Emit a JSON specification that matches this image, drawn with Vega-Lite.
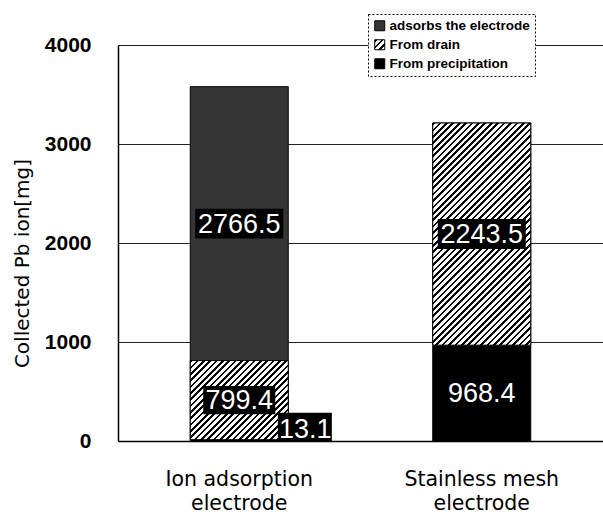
{
  "$schema": "https://vega.github.io/schema/vega-lite/v6.json",
  "width": 485,
  "height": 396,
  "autosize": "none",
  "padding": {"left": 118, "top": 45, "right": 0, "bottom": 76},
  "background": "white",
  "config": {
    "view": {"stroke": null},
    "font": "Liberation Sans"
  },
  "data": {
    "values": [
      {"electrode": "Ion adsorption electrode", "series": "From precipitation", "part": 1, "value": 13.1},
      {"electrode": "Ion adsorption electrode", "series": "From drain", "part": 2, "value": 799.4},
      {"electrode": "Ion adsorption electrode", "series": "adsorbs the electrode", "part": 3, "value": 2766.5},
      {"electrode": "Stainless mesh electrode", "series": "From precipitation", "part": 1, "value": 968.4},
      {"electrode": "Stainless mesh electrode", "series": "From drain", "part": 2, "value": 2243.5}
    ]
  },
  "transform": [
    {"stack": "value", "groupby": ["electrode"], "sort": [{"field": "part", "order": "ascending"}], "as": ["y0", "y1"]},
    {"calculate": "(datum.y0 + datum.y1) / 2", "as": "ymid"}
  ],
  "encoding": {
    "x": {
      "field": "electrode",
      "type": "nominal",
      "sort": ["Ion adsorption electrode", "Stainless mesh electrode"],
      "scale": {"paddingInner": 0, "paddingOuter": 0},
      "axis": {
        "title": null,
        "labelAngle": 0,
        "ticks": false,
        "domainColor": "#000",
        "domainWidth": 1.5,
        "labelFont": "DejaVu Sans",
        "labelFontSize": 20.5,
        "labelColor": "#000",
        "labelPadding": 28,
        "labelLineHeight": 24,
        "labelExpr": "datum.value == 'Ion adsorption electrode' ? ['Ion adsorption', 'electrode'] : ['Stainless mesh', 'electrode']"
      }
    }
  },
  "layer": [
    {
      "mark": {"type": "bar", "width": 98, "stroke": "#000", "strokeWidth": 1},
      "encoding": {
        "y": {
          "field": "y1",
          "type": "quantitative",
          "scale": {"domain": [0, 4000], "nice": false},
          "axis": {
            "title": "Collected Pb ion[mg]",
            "titleFont": "DejaVu Sans",
            "titleFontSize": 20,
            "titleFontWeight": "normal",
            "titleColor": "#000",
            "titleAngle": 270,
            "titleAnchor": "middle",
            "titleBaseline": "middle",
            "titleX": -96,
            "titleY": 218,
            "values": [0, 1000, 2000, 3000, 4000],
            "format": "d",
            "labelFont": "Liberation Sans",
            "labelFontWeight": "bold",
            "labelFontSize": 21,
            "labelColor": "#000",
            "labelPadding": 27,
            "tickSize": 0,
            "domainColor": "#000",
            "domainWidth": 1.5,
            "grid": true,
            "gridColor": "#222",
            "gridWidth": 1
          }
        },
        "y2": {"field": "y0"},
        "color": {
          "field": "series",
          "type": "nominal",
          "scale": {
            "domain": ["adsorbs the electrode", "From drain", "From precipitation"],
            "range": [
              "#353535",
              {"expr": "{gradient: 'linear', x1: 0, y1: 0, x2: 1, y2: 1, stops: [{offset: 0, color: '#000'}, {offset: 0.14, color: '#000'}, {offset: 0.14, color: '#fff'}, {offset: 0.333, color: '#fff'}, {offset: 0.333, color: '#000'}, {offset: 0.473, color: '#000'}, {offset: 0.473, color: '#fff'}, {offset: 0.667, color: '#fff'}, {offset: 0.667, color: '#000'}, {offset: 0.807, color: '#000'}, {offset: 0.807, color: '#fff'}, {offset: 1, color: '#fff'}]}"},
              "#000000"
            ]
          },
          "legend": {
            "title": null,
            "orient": "none",
            "legendX": 250,
            "legendY": -31,
            "padding": 5,
            "fillColor": "white",
            "strokeColor": "#000",
            "symbolType": "square",
            "symbolSize": 100,
            "symbolStrokeColor": "#000",
            "symbolStrokeWidth": 1,
            "labelFont": "Liberation Sans",
            "labelFontWeight": "bold",
            "labelFontSize": 13.5,
            "labelColor": "#000",
            "labelOffset": 3,
            "labelLimit": 300,
            "rowPadding": 4,
            "encode": {
              "legend": {
                "update": {"strokeDash": {"value": [2, 2]}}
              }
            }
          }
        }
      }
    },
    {
      "transform": [{"filter": "datum.series == 'From drain' && datum.electrode == 'Ion adsorption electrode'"}],
      "mark": {
        "type": "bar",
        "width": 98,
        "stroke": "#000",
        "strokeWidth": 1,
        "fill": {
          "gradient": "linear",
          "x1": 0, "y1": 0, "x2": 1.0941, "y2": 0.8835,
          "stops": [
            {"offset": 0, "color": "#000"}, {"offset": 0.015, "color": "#000"}, {"offset": 0.015, "color": "#fff"}, {"offset": 0.0357, "color": "#fff"},
            {"offset": 0.0357, "color": "#000"}, {"offset": 0.0507, "color": "#000"}, {"offset": 0.0507, "color": "#fff"}, {"offset": 0.0714, "color": "#fff"},
            {"offset": 0.0714, "color": "#000"}, {"offset": 0.0864, "color": "#000"}, {"offset": 0.0864, "color": "#fff"}, {"offset": 0.1071, "color": "#fff"},
            {"offset": 0.1071, "color": "#000"}, {"offset": 0.1221, "color": "#000"}, {"offset": 0.1221, "color": "#fff"}, {"offset": 0.1429, "color": "#fff"},
            {"offset": 0.1429, "color": "#000"}, {"offset": 0.1579, "color": "#000"}, {"offset": 0.1579, "color": "#fff"}, {"offset": 0.1786, "color": "#fff"},
            {"offset": 0.1786, "color": "#000"}, {"offset": 0.1936, "color": "#000"}, {"offset": 0.1936, "color": "#fff"}, {"offset": 0.2143, "color": "#fff"},
            {"offset": 0.2143, "color": "#000"}, {"offset": 0.2293, "color": "#000"}, {"offset": 0.2293, "color": "#fff"}, {"offset": 0.25, "color": "#fff"},
            {"offset": 0.25, "color": "#000"}, {"offset": 0.265, "color": "#000"}, {"offset": 0.265, "color": "#fff"}, {"offset": 0.2857, "color": "#fff"},
            {"offset": 0.2857, "color": "#000"}, {"offset": 0.3007, "color": "#000"}, {"offset": 0.3007, "color": "#fff"}, {"offset": 0.3214, "color": "#fff"},
            {"offset": 0.3214, "color": "#000"}, {"offset": 0.3364, "color": "#000"}, {"offset": 0.3364, "color": "#fff"}, {"offset": 0.3571, "color": "#fff"},
            {"offset": 0.3571, "color": "#000"}, {"offset": 0.3721, "color": "#000"}, {"offset": 0.3721, "color": "#fff"}, {"offset": 0.3929, "color": "#fff"},
            {"offset": 0.3929, "color": "#000"}, {"offset": 0.4079, "color": "#000"}, {"offset": 0.4079, "color": "#fff"}, {"offset": 0.4286, "color": "#fff"},
            {"offset": 0.4286, "color": "#000"}, {"offset": 0.4436, "color": "#000"}, {"offset": 0.4436, "color": "#fff"}, {"offset": 0.4643, "color": "#fff"},
            {"offset": 0.4643, "color": "#000"}, {"offset": 0.4793, "color": "#000"}, {"offset": 0.4793, "color": "#fff"}, {"offset": 0.5, "color": "#fff"},
            {"offset": 0.5, "color": "#000"}, {"offset": 0.515, "color": "#000"}, {"offset": 0.515, "color": "#fff"}, {"offset": 0.5357, "color": "#fff"},
            {"offset": 0.5357, "color": "#000"}, {"offset": 0.5507, "color": "#000"}, {"offset": 0.5507, "color": "#fff"}, {"offset": 0.5714, "color": "#fff"},
            {"offset": 0.5714, "color": "#000"}, {"offset": 0.5864, "color": "#000"}, {"offset": 0.5864, "color": "#fff"}, {"offset": 0.6071, "color": "#fff"},
            {"offset": 0.6071, "color": "#000"}, {"offset": 0.6221, "color": "#000"}, {"offset": 0.6221, "color": "#fff"}, {"offset": 0.6429, "color": "#fff"},
            {"offset": 0.6429, "color": "#000"}, {"offset": 0.6579, "color": "#000"}, {"offset": 0.6579, "color": "#fff"}, {"offset": 0.6786, "color": "#fff"},
            {"offset": 0.6786, "color": "#000"}, {"offset": 0.6936, "color": "#000"}, {"offset": 0.6936, "color": "#fff"}, {"offset": 0.7143, "color": "#fff"},
            {"offset": 0.7143, "color": "#000"}, {"offset": 0.7293, "color": "#000"}, {"offset": 0.7293, "color": "#fff"}, {"offset": 0.75, "color": "#fff"},
            {"offset": 0.75, "color": "#000"}, {"offset": 0.765, "color": "#000"}, {"offset": 0.765, "color": "#fff"}, {"offset": 0.7857, "color": "#fff"},
            {"offset": 0.7857, "color": "#000"}, {"offset": 0.8007, "color": "#000"}, {"offset": 0.8007, "color": "#fff"}, {"offset": 0.8214, "color": "#fff"},
            {"offset": 0.8214, "color": "#000"}, {"offset": 0.8364, "color": "#000"}, {"offset": 0.8364, "color": "#fff"}, {"offset": 0.8571, "color": "#fff"},
            {"offset": 0.8571, "color": "#000"}, {"offset": 0.8721, "color": "#000"}, {"offset": 0.8721, "color": "#fff"}, {"offset": 0.8929, "color": "#fff"},
            {"offset": 0.8929, "color": "#000"}, {"offset": 0.9079, "color": "#000"}, {"offset": 0.9079, "color": "#fff"}, {"offset": 0.9286, "color": "#fff"},
            {"offset": 0.9286, "color": "#000"}, {"offset": 0.9436, "color": "#000"}, {"offset": 0.9436, "color": "#fff"}, {"offset": 0.9643, "color": "#fff"},
            {"offset": 0.9643, "color": "#000"}, {"offset": 0.9793, "color": "#000"}, {"offset": 0.9793, "color": "#fff"}, {"offset": 1, "color": "#fff"}
          ]
        }
      },
      "encoding": {
        "y": {"field": "y1", "type": "quantitative"},
        "y2": {"field": "y0"}
      }
    },
    {
      "transform": [{"filter": "datum.series == 'From drain' && datum.electrode == 'Stainless mesh electrode'"}],
      "mark": {
        "type": "bar",
        "width": 98,
        "stroke": "#000",
        "strokeWidth": 1,
        "fill": {
          "gradient": "linear",
          "x1": 0, "y1": 0, "x2": 0.5323, "y2": 1.2064,
          "stops": [
            {"offset": 0, "color": "#000"}, {"offset": 0.0082, "color": "#000"}, {"offset": 0.0082, "color": "#fff"}, {"offset": 0.02, "color": "#fff"},
            {"offset": 0.02, "color": "#000"}, {"offset": 0.0282, "color": "#000"}, {"offset": 0.0282, "color": "#fff"}, {"offset": 0.04, "color": "#fff"},
            {"offset": 0.04, "color": "#000"}, {"offset": 0.0482, "color": "#000"}, {"offset": 0.0482, "color": "#fff"}, {"offset": 0.06, "color": "#fff"},
            {"offset": 0.06, "color": "#000"}, {"offset": 0.0682, "color": "#000"}, {"offset": 0.0682, "color": "#fff"}, {"offset": 0.08, "color": "#fff"},
            {"offset": 0.08, "color": "#000"}, {"offset": 0.0882, "color": "#000"}, {"offset": 0.0882, "color": "#fff"}, {"offset": 0.10, "color": "#fff"},
            {"offset": 0.10, "color": "#000"}, {"offset": 0.1082, "color": "#000"}, {"offset": 0.1082, "color": "#fff"}, {"offset": 0.12, "color": "#fff"},
            {"offset": 0.12, "color": "#000"}, {"offset": 0.1282, "color": "#000"}, {"offset": 0.1282, "color": "#fff"}, {"offset": 0.14, "color": "#fff"},
            {"offset": 0.14, "color": "#000"}, {"offset": 0.1482, "color": "#000"}, {"offset": 0.1482, "color": "#fff"}, {"offset": 0.16, "color": "#fff"},
            {"offset": 0.16, "color": "#000"}, {"offset": 0.1682, "color": "#000"}, {"offset": 0.1682, "color": "#fff"}, {"offset": 0.18, "color": "#fff"},
            {"offset": 0.18, "color": "#000"}, {"offset": 0.1882, "color": "#000"}, {"offset": 0.1882, "color": "#fff"}, {"offset": 0.20, "color": "#fff"},
            {"offset": 0.20, "color": "#000"}, {"offset": 0.2082, "color": "#000"}, {"offset": 0.2082, "color": "#fff"}, {"offset": 0.22, "color": "#fff"},
            {"offset": 0.22, "color": "#000"}, {"offset": 0.2282, "color": "#000"}, {"offset": 0.2282, "color": "#fff"}, {"offset": 0.24, "color": "#fff"},
            {"offset": 0.24, "color": "#000"}, {"offset": 0.2482, "color": "#000"}, {"offset": 0.2482, "color": "#fff"}, {"offset": 0.26, "color": "#fff"},
            {"offset": 0.26, "color": "#000"}, {"offset": 0.2682, "color": "#000"}, {"offset": 0.2682, "color": "#fff"}, {"offset": 0.28, "color": "#fff"},
            {"offset": 0.28, "color": "#000"}, {"offset": 0.2882, "color": "#000"}, {"offset": 0.2882, "color": "#fff"}, {"offset": 0.30, "color": "#fff"},
            {"offset": 0.30, "color": "#000"}, {"offset": 0.3082, "color": "#000"}, {"offset": 0.3082, "color": "#fff"}, {"offset": 0.32, "color": "#fff"},
            {"offset": 0.32, "color": "#000"}, {"offset": 0.3282, "color": "#000"}, {"offset": 0.3282, "color": "#fff"}, {"offset": 0.34, "color": "#fff"},
            {"offset": 0.34, "color": "#000"}, {"offset": 0.3482, "color": "#000"}, {"offset": 0.3482, "color": "#fff"}, {"offset": 0.36, "color": "#fff"},
            {"offset": 0.36, "color": "#000"}, {"offset": 0.3682, "color": "#000"}, {"offset": 0.3682, "color": "#fff"}, {"offset": 0.38, "color": "#fff"},
            {"offset": 0.38, "color": "#000"}, {"offset": 0.3882, "color": "#000"}, {"offset": 0.3882, "color": "#fff"}, {"offset": 0.40, "color": "#fff"},
            {"offset": 0.40, "color": "#000"}, {"offset": 0.4082, "color": "#000"}, {"offset": 0.4082, "color": "#fff"}, {"offset": 0.42, "color": "#fff"},
            {"offset": 0.42, "color": "#000"}, {"offset": 0.4282, "color": "#000"}, {"offset": 0.4282, "color": "#fff"}, {"offset": 0.44, "color": "#fff"},
            {"offset": 0.44, "color": "#000"}, {"offset": 0.4482, "color": "#000"}, {"offset": 0.4482, "color": "#fff"}, {"offset": 0.46, "color": "#fff"},
            {"offset": 0.46, "color": "#000"}, {"offset": 0.4682, "color": "#000"}, {"offset": 0.4682, "color": "#fff"}, {"offset": 0.48, "color": "#fff"},
            {"offset": 0.48, "color": "#000"}, {"offset": 0.4882, "color": "#000"}, {"offset": 0.4882, "color": "#fff"}, {"offset": 0.50, "color": "#fff"},
            {"offset": 0.50, "color": "#000"}, {"offset": 0.5082, "color": "#000"}, {"offset": 0.5082, "color": "#fff"}, {"offset": 0.52, "color": "#fff"},
            {"offset": 0.52, "color": "#000"}, {"offset": 0.5282, "color": "#000"}, {"offset": 0.5282, "color": "#fff"}, {"offset": 0.54, "color": "#fff"},
            {"offset": 0.54, "color": "#000"}, {"offset": 0.5482, "color": "#000"}, {"offset": 0.5482, "color": "#fff"}, {"offset": 0.56, "color": "#fff"},
            {"offset": 0.56, "color": "#000"}, {"offset": 0.5682, "color": "#000"}, {"offset": 0.5682, "color": "#fff"}, {"offset": 0.58, "color": "#fff"},
            {"offset": 0.58, "color": "#000"}, {"offset": 0.5882, "color": "#000"}, {"offset": 0.5882, "color": "#fff"}, {"offset": 0.60, "color": "#fff"},
            {"offset": 0.60, "color": "#000"}, {"offset": 0.6082, "color": "#000"}, {"offset": 0.6082, "color": "#fff"}, {"offset": 0.62, "color": "#fff"},
            {"offset": 0.62, "color": "#000"}, {"offset": 0.6282, "color": "#000"}, {"offset": 0.6282, "color": "#fff"}, {"offset": 0.64, "color": "#fff"},
            {"offset": 0.64, "color": "#000"}, {"offset": 0.6482, "color": "#000"}, {"offset": 0.6482, "color": "#fff"}, {"offset": 0.66, "color": "#fff"},
            {"offset": 0.66, "color": "#000"}, {"offset": 0.6682, "color": "#000"}, {"offset": 0.6682, "color": "#fff"}, {"offset": 0.68, "color": "#fff"},
            {"offset": 0.68, "color": "#000"}, {"offset": 0.6882, "color": "#000"}, {"offset": 0.6882, "color": "#fff"}, {"offset": 0.70, "color": "#fff"},
            {"offset": 0.70, "color": "#000"}, {"offset": 0.7082, "color": "#000"}, {"offset": 0.7082, "color": "#fff"}, {"offset": 0.72, "color": "#fff"},
            {"offset": 0.72, "color": "#000"}, {"offset": 0.7282, "color": "#000"}, {"offset": 0.7282, "color": "#fff"}, {"offset": 0.74, "color": "#fff"},
            {"offset": 0.74, "color": "#000"}, {"offset": 0.7482, "color": "#000"}, {"offset": 0.7482, "color": "#fff"}, {"offset": 0.76, "color": "#fff"},
            {"offset": 0.76, "color": "#000"}, {"offset": 0.7682, "color": "#000"}, {"offset": 0.7682, "color": "#fff"}, {"offset": 0.78, "color": "#fff"},
            {"offset": 0.78, "color": "#000"}, {"offset": 0.7882, "color": "#000"}, {"offset": 0.7882, "color": "#fff"}, {"offset": 0.80, "color": "#fff"},
            {"offset": 0.80, "color": "#000"}, {"offset": 0.8082, "color": "#000"}, {"offset": 0.8082, "color": "#fff"}, {"offset": 0.82, "color": "#fff"},
            {"offset": 0.82, "color": "#000"}, {"offset": 0.8282, "color": "#000"}, {"offset": 0.8282, "color": "#fff"}, {"offset": 0.84, "color": "#fff"},
            {"offset": 0.84, "color": "#000"}, {"offset": 0.8482, "color": "#000"}, {"offset": 0.8482, "color": "#fff"}, {"offset": 0.86, "color": "#fff"},
            {"offset": 0.86, "color": "#000"}, {"offset": 0.8682, "color": "#000"}, {"offset": 0.8682, "color": "#fff"}, {"offset": 0.88, "color": "#fff"},
            {"offset": 0.88, "color": "#000"}, {"offset": 0.8882, "color": "#000"}, {"offset": 0.8882, "color": "#fff"}, {"offset": 0.90, "color": "#fff"},
            {"offset": 0.90, "color": "#000"}, {"offset": 0.9082, "color": "#000"}, {"offset": 0.9082, "color": "#fff"}, {"offset": 0.92, "color": "#fff"},
            {"offset": 0.92, "color": "#000"}, {"offset": 0.9282, "color": "#000"}, {"offset": 0.9282, "color": "#fff"}, {"offset": 0.94, "color": "#fff"},
            {"offset": 0.94, "color": "#000"}, {"offset": 0.9482, "color": "#000"}, {"offset": 0.9482, "color": "#fff"}, {"offset": 0.96, "color": "#fff"},
            {"offset": 0.96, "color": "#000"}, {"offset": 0.9682, "color": "#000"}, {"offset": 0.9682, "color": "#fff"}, {"offset": 0.98, "color": "#fff"},
            {"offset": 0.98, "color": "#000"}, {"offset": 0.9882, "color": "#000"}, {"offset": 0.9882, "color": "#fff"}, {"offset": 1, "color": "#fff"}
          ]
        }
      },
      "encoding": {
        "y": {"field": "y1", "type": "quantitative"},
        "y2": {"field": "y0"}
      }
    },
    {
      "transform": [{"filter": "datum.value > 2000"}],
      "mark": {"type": "point", "shape": "M-1,-0.34H1V0.34H-1Z", "size": 7744, "filled": true, "color": "#000", "opacity": 1, "strokeWidth": 0},
      "encoding": {"y": {"field": "ymid", "type": "quantitative"}}
    },
    {
      "transform": [{"filter": "datum.value > 500 && datum.value < 900"}],
      "mark": {"type": "point", "shape": "M-1,-0.39H1V0.39H-1Z", "size": 5184, "filled": true, "color": "#000", "opacity": 1, "strokeWidth": 0},
      "encoding": {"y": {"field": "ymid", "type": "quantitative"}}
    },
    {
      "transform": [{"filter": "datum.value < 100"}],
      "mark": {"type": "point", "shape": "M1.43,-1.02H3.43V0.06H1.43Z", "size": 2916, "filled": true, "color": "#000", "opacity": 1, "strokeWidth": 0},
      "encoding": {"y": {"field": "ymid", "type": "quantitative"}}
    },
    {
      "transform": [{"filter": "datum.value > 100"}],
      "mark": {"type": "text", "font": "Liberation Sans", "fontSize": 27, "color": "#fff", "align": "center", "baseline": "middle", "dy": 1},
      "encoding": {
        "y": {"field": "ymid", "type": "quantitative"},
        "text": {"field": "value", "type": "quantitative", "format": ".1f"}
      }
    },
    {
      "transform": [{"filter": "datum.value < 100"}],
      "mark": {"type": "text", "font": "Liberation Sans", "fontSize": 27, "color": "#fff", "align": "center", "baseline": "middle", "dx": 66, "dy": -10},
      "encoding": {
        "y": {"field": "ymid", "type": "quantitative"},
        "text": {"field": "value", "type": "quantitative", "format": ".1f"}
      }
    }
  ]
}
